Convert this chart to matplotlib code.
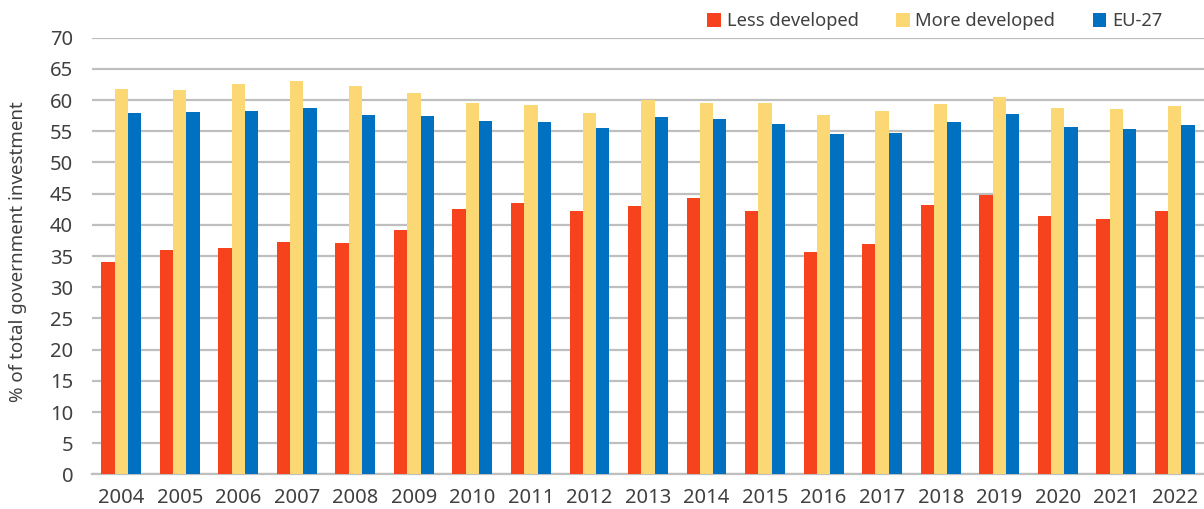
import matplotlib
matplotlib.use("Agg")
import matplotlib.pyplot as plt
import numpy as np
from matplotlib.patches import Patch

plt.rcParams['font.family'] = ['Noto Sans', 'DejaVu Sans']

years = ["2004", "2005", "2006", "2007", "2008", "2009", "2010", "2011", "2012",
         "2013", "2014", "2015", "2016", "2017", "2018", "2019", "2020", "2021", "2022"]
less_developed = [34.0, 36.0, 36.3, 37.2, 37.1, 39.2, 42.5, 43.5, 42.3,
                  43.0, 44.3, 42.2, 35.7, 37.0, 43.2, 44.8, 41.4, 40.9, 42.3]
more_developed = [61.8, 61.6, 62.5, 63.1, 62.3, 61.2, 59.5, 59.2, 57.9,
                  60.0, 59.5, 59.5, 57.6, 58.3, 59.3, 60.5, 58.8, 58.5, 59.0]
eu27 = [58.0, 58.1, 58.3, 58.7, 57.6, 57.5, 56.6, 56.5, 55.5,
        57.3, 56.9, 56.2, 54.5, 54.8, 56.5, 57.8, 55.7, 55.3, 56.0]

series = [("Less developed", less_developed, "#F6421D"),
          ("More developed", more_developed, "#FCD874"),
          ("EU-27", eu27, "#0070C0")]

text_color = "#404040"
grid_color = "#BFBFBF"

fig = plt.figure(figsize=(12.04, 5.09), dpi=100)
ax = fig.add_axes([0.0764, 0.0678, 0.9236, 0.8582])

x = np.arange(len(years))
width = 0.227
for i, (name, vals, color) in enumerate(series):
    ax.bar(x + (i - 1) * width, vals, width=width, color=color, label=name,
           zorder=3, linewidth=0)

ax.set_xlim(-0.5, len(years) - 0.5)
ax.set_ylim(0, 70)
ax.set_yticks(np.arange(0, 71, 5))
ax.set_xticks(x)
ax.set_xticklabels(years)
ax.yaxis.grid(True, color=grid_color, linewidth=1.6, zorder=0)
ax.set_axisbelow(True)
for side in ["top", "right", "left"]:
    ax.spines[side].set_visible(False)
ax.spines["bottom"].set_color(grid_color)
ax.spines["bottom"].set_linewidth(1.6)
ax.tick_params(axis="both", length=0, labelsize=14.5, colors=text_color)
ax.tick_params(axis="x", pad=10)
ax.tick_params(axis="y", pad=13.5)

fig.text(18 / 1204, 0.505, "% of total government investment", rotation=90,
         ha="center", va="center", fontsize=13.5, color=text_color)

handles = [Patch(facecolor=c, edgecolor="none", label=n) for n, _, c in series]
fig.legend(handles=handles, loc="center right", bbox_to_anchor=(0.979, 0.958),
           ncol=3, frameon=False, fontsize=13.2, labelcolor=text_color,
           handlelength=0.75, handleheight=0.75, handletextpad=0.3,
           columnspacing=2.05)

fig.savefig("out.png", dpi=100)
